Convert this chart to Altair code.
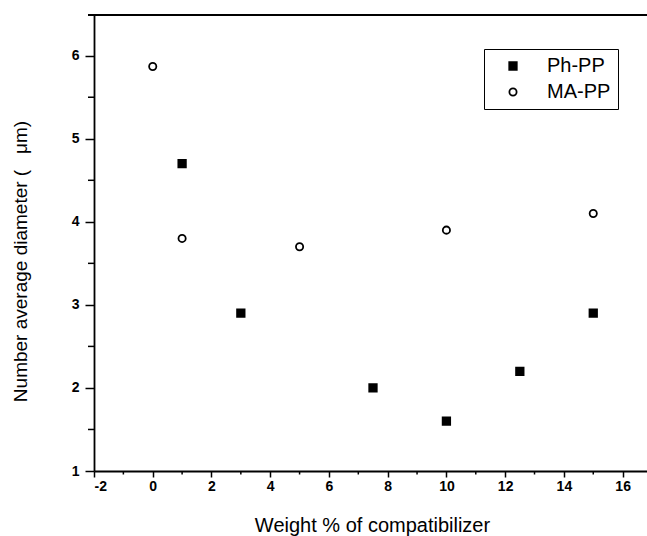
import altair as alt
import pandas as pd

# Number average diameter of the dispersed phase vs. compatibilizer content
ph_x = [1, 3, 7.5, 10, 12.5, 15]
ph_y = [4.7, 2.9, 2.0, 1.6, 2.2, 2.9]
ma_x = [0, 1, 5, 10, 15]
ma_y = [5.87, 3.8, 3.7, 3.9, 4.1]
series_names = ["Ph-PP", "MA-PP"]

x_ticks = [-2, 0, 2, 4, 6, 8, 10, 12, 14, 16]
x_minor = [-1, 1, 3, 5, 7, 9, 11, 13, 15]
y_ticks = [1, 2, 3, 4, 5, 6]
y_minor = [1.5, 2.5, 3.5, 4.5, 5.5]

W, H = 553, 456
FONT = "Liberation Sans"
NB = "\u00a0"

df = pd.DataFrame(
    {
        "series": [series_names[0]] * len(ph_x) + [series_names[1]] * len(ma_x),
        "x": ph_x + ma_x,
        "y": ph_y + ma_y,
    }
)

xscale = alt.Scale(domain=[-2, 16.83], nice=False, zero=False)
yscale = alt.Scale(domain=[1, 6.49], nice=False, zero=False)

legend = alt.Legend(
    orient="none",
    legendX=390,
    legendY=34,
    title=None,
    strokeColor="black",
    padding=7,
    rowPadding=6,
    symbolOffset=12,
    labelOffset=24,
    labelFontSize=20,
    labelFont=FONT,
    labelColor="black",
    labelExpr="datum.label + '\u2007\u2007'",
    symbolStrokeWidth=1.8,
)

x_axis = alt.Axis(
    values=x_ticks,
    title="Weight % of compatibilizer",
    grid=False,
    tickSize=6,
    tickWidth=1.5,
    tickColor="black",
    domainColor="black",
    domainWidth=1.8,
    labelExpr="'' + datum.value",
    labelFont=FONT,
    labelFontSize=14,
    labelFontWeight="bold",
    labelColor="black",
    labelPadding=2,
    titleFont=FONT,
    titleFontSize=20,
    titleFontWeight="normal",
    titleColor="black",
    titleX=278,
    titleY=60,
    titleBaseline="alphabetic",
)

y_axis = alt.Axis(
    values=y_ticks,
    title="Number average diameter" + NB + "(" + NB * 3 + "μm)",
    grid=False,
    tickSize=9,
    tickWidth=1.5,
    tickColor="black",
    domainColor="black",
    domainWidth=1.8,
    labelExpr="'' + datum.value",
    labelFont=FONT,
    labelFontSize=14,
    labelFontWeight="bold",
    labelColor="black",
    labelPadding=6,
    titleFont=FONT,
    titleFontSize=19,
    titleFontWeight="normal",
    titleColor="black",
    titleAngle=270,
    titleX=-68,
    titleY=246,
    titleBaseline="alphabetic",
)

points = (
    alt.Chart(df)
    .mark_point(strokeWidth=1.8, opacity=1, fillOpacity=1)
    .encode(
        x=alt.X("x:Q", scale=xscale, axis=x_axis),
        y=alt.Y("y:Q", scale=yscale, axis=y_axis),
        fill=alt.Fill(
            "series:N",
            scale=alt.Scale(domain=series_names, range=["black", "white"]),
            legend=legend,
        ),
        stroke=alt.Stroke(
            "series:N",
            scale=alt.Scale(domain=series_names, range=["black", "black"]),
            legend=legend,
        ),
        shape=alt.Shape(
            "series:N",
            scale=alt.Scale(domain=series_names, range=["square", "circle"]),
            legend=legend,
        ),
        size=alt.Size(
            "series:N",
            scale=alt.Scale(domain=series_names, range=[56, 52]),
            legend=legend,
        ),
    )
)

# minor ticks below the x axis and left of the y axis
x_minor_ticks = (
    alt.Chart(pd.DataFrame({"x": x_minor}))
    .mark_rule(color="black", strokeWidth=1.5)
    .encode(x=alt.X("x:Q", scale=xscale), y=alt.value(H), y2=alt.value(H + 3.5))
)
y_minor_ticks = (
    alt.Chart(pd.DataFrame({"y": y_minor}))
    .mark_rule(color="black", strokeWidth=1.5)
    .encode(y=alt.Y("y:Q", scale=yscale), x=alt.value(-6), x2=alt.value(0))
)

# top frame line
top_line = (
    alt.Chart(pd.DataFrame({"v": [0]}))
    .mark_rule(color="black", strokeWidth=1.8)
    .encode(x=alt.value(-6), x2=alt.value(W), y=alt.value(0))
)

chart = (
    alt.layer(points, x_minor_ticks, y_minor_ticks, top_line)
    .properties(
        width=W,
        height=H,
        autosize=alt.AutoSizeParams(type="none"),
        padding={"left": 94, "top": 15, "right": 0, "bottom": 65},
        background="white",
    )
    .configure_view(stroke=None)
)

chart.save("out.html", embed_options={"renderer": "svg", "actions": False})
